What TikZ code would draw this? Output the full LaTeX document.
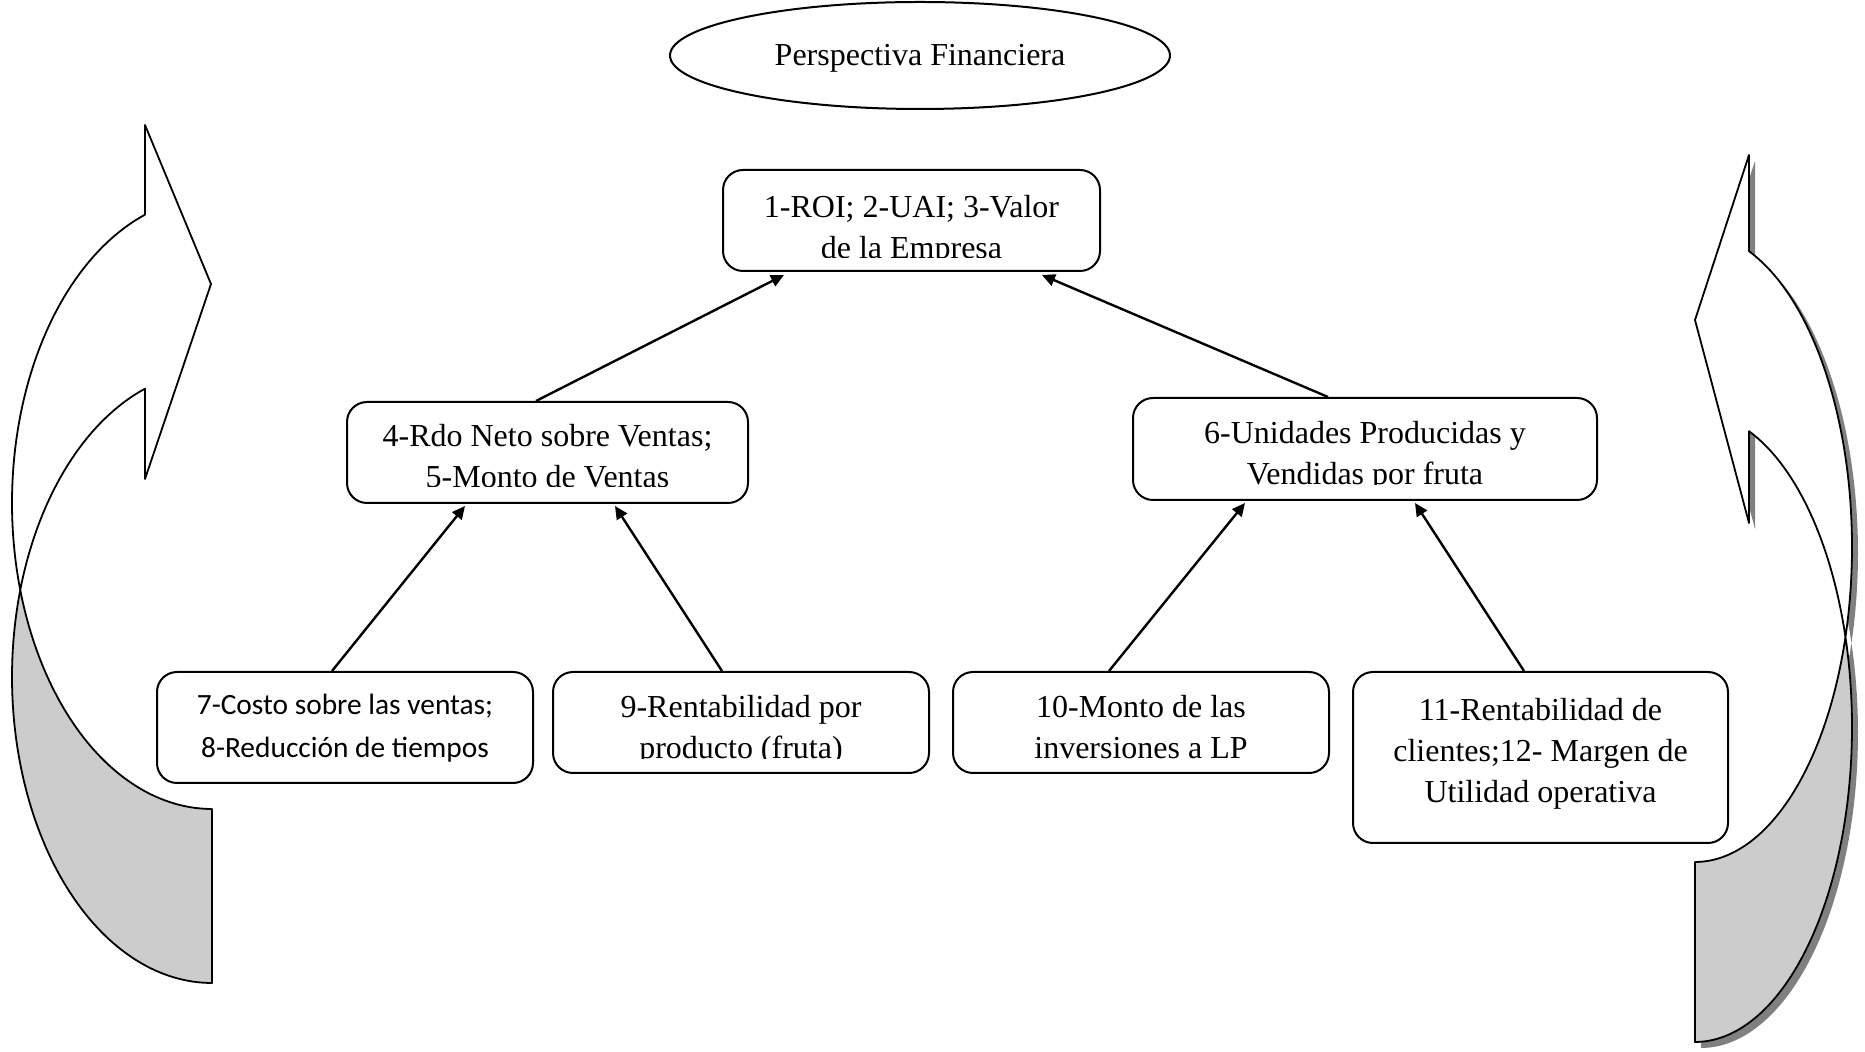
\documentclass[tikz,border=0pt]{standalone}
\usepackage{fontspec}
\setmainfont{Liberation Serif}
\newfontfamily\calibri{Carlito}
\usetikzlibrary{calc,arrows.meta,shapes.geometric}
\definecolor{backgray}{HTML}{CCCCCC}
\definecolor{shadowgray}{HTML}{808080}
\begin{document}
\begin{tikzpicture}[x=0.5pt,y=-0.5pt,
  box/.style={draw, line width=1pt, rounded corners=10pt, inner sep=0pt},
  txt/.style={inner sep=0pt, anchor=north, align=center, font=\fontsize{16}{20.5}\selectfont},
  conn/.style={line width=1.2pt, -{Triangle[length=6.5pt,width=6pt]}},
  ribbon/.style={draw, line width=0.9pt, line join=round},
]
\useasboundingbox (0,0) rectangle (1865,1052);

% ---------- left curved arrow (front face, then back face on top) ----------
\filldraw[ribbon, fill=white]
  plot[domain=250.43:163.48, samples=80] ({212+200*cos(\x)}, {503+306*sin(\x)})
  -- plot[domain=196.52:250.43, samples=60] ({212+200*cos(\x)}, {677+306*sin(\x)})
  -- (145,479) -- (211,284) -- (145,125) -- cycle;
\filldraw[ribbon, fill=backgray]
  plot[domain=163.48:90, samples=60] ({212+200*cos(\x)}, {503+306*sin(\x)})
  -- (212,983)
  -- plot[domain=90:196.52, samples=80] ({212+200*cos(\x)}, {677+306*sin(\x)})
  -- cycle;

% ---------- right curved arrow with drop shadow ----------
\begin{scope}[shift={(6,6)}]
  \fill[shadowgray]
    plot[domain=249.88:163.40, samples=80] ({1695-157*cos(\x)}, {547+315*sin(\x)})
    -- plot[domain=196.60:249.88, samples=60] ({1695-157*cos(\x)}, {727+315*sin(\x)})
    -- (1749,523) -- (1695,320) -- (1749,155) -- cycle;
  \fill[shadowgray]
    plot[domain=163.40:90, samples=60] ({1695-157*cos(\x)}, {547+315*sin(\x)})
    -- (1695,1042)
    -- plot[domain=90:196.60, samples=80] ({1695-157*cos(\x)}, {727+315*sin(\x)})
    -- cycle;
\end{scope}
\filldraw[ribbon, fill=white]
  plot[domain=249.88:163.40, samples=80] ({1695-157*cos(\x)}, {547+315*sin(\x)})
  -- plot[domain=196.60:249.88, samples=60] ({1695-157*cos(\x)}, {727+315*sin(\x)})
  -- (1749,523) -- (1695,320) -- (1749,155) -- cycle;
\filldraw[ribbon, fill=backgray]
  plot[domain=163.40:90, samples=60] ({1695-157*cos(\x)}, {547+315*sin(\x)})
  -- (1695,1042)
  -- plot[domain=90:196.60, samples=80] ({1695-157*cos(\x)}, {727+315*sin(\x)})
  -- cycle;

% ---------- title ellipse ----------
\node[draw, line width=1pt, ellipse, minimum width=250pt, minimum height=53.5pt, inner sep=0pt] (pf) at (920,55.5) {};
\node[inner sep=0pt, anchor=base, font=\fontsize{16}{19}\selectfont] (pft) at (920,66) {Perspectiva Financiera};

% ---------- boxes ----------
\node[box, minimum width=188.5pt, minimum height=50.5pt] (b1)  at (911.5,220.5) {};
\node[box, minimum width=200.5pt, minimum height=50.5pt] (b4)  at (547.5,452.5) {};
\node[box, minimum width=232pt,   minimum height=51pt]   (b6)  at (1365,449)   {};
\node[box, minimum width=188pt,   minimum height=55.5pt] (b7)  at (345,727.5)  {};
\node[box, minimum width=188pt,   minimum height=50.5pt] (b9)  at (741,722.5)  {};
\node[box, minimum width=188pt,   minimum height=50.5pt] (b10) at (1141,722.5) {};
\node[box, minimum width=187.5pt, minimum height=85.5pt] (b11) at (1540.5,757.5) {};

% ---------- box texts (bottom lines clipped by the box margin) ----------
\begin{scope}
  \clip (723,170) rectangle (1100,258);
  \node[txt] (t1) at (911.5,195) {1-ROI; 2-UAI; 3-Valor\\de la Empresa};
\end{scope}
\begin{scope}
  \clip (347,402) rectangle (748,487);
  \node[txt] (t4) at (547.5,424) {4-Rdo Neto sobre Ventas;\\5-Monto de Ventas};
\end{scope}
\begin{scope}
  \clip (1133,398) rectangle (1597,485);
  \node[txt] (t6) at (1365,421) {6-Unidades Producidas y\\Vendidas por fruta};
\end{scope}
\node[txt, font=\calibri\fontsize{14.7}{21.5}\selectfont] (t7) at (345,694) {7-Costo sobre las ventas;\\8-Reducción de tiempos};
\begin{scope}
  \clip (553,672) rectangle (929,759);
  \node[txt] (t9) at (741,695) {9-Rentabilidad por\\producto (fruta)};
\end{scope}
\begin{scope}
  \clip (953,672) rectangle (1329,759);
  \node[txt] (t10) at (1141,695) {10-Monto de las\\inversiones a LP};
\end{scope}
\node[txt] (t11) at (1540.5,698) {11-Rentabilidad de\\clientes;12- Margen de\\Utilidad operativa};

% ---------- connectors ----------
\draw[conn] ($(b4.north west)+(190,0)$)  -- ($(b1.south west)+(62,3)$);
\draw[conn] ($(b6.north west)+(196,0)$)  -- ($(b1.south west)+(320,3)$);
\draw[conn] ($(b7.north west)+(176,0)$)  -- ($(b4.south west)+(119,2)$);
\draw[conn] ($(b9.north west)+(170,0)$)  -- ($(b4.south west)+(269,2)$);
\draw[conn] ($(b10.north west)+(157,0)$) -- ($(b6.south west)+(113,2)$);
\draw[conn] ($(b11.north west)+(172,0)$) -- ($(b6.south west)+(283,2)$);
\end{tikzpicture}
\end{document}
